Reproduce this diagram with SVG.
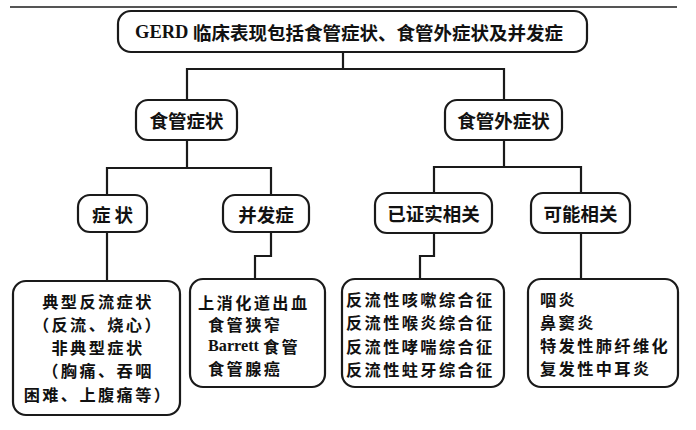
<svg xmlns="http://www.w3.org/2000/svg" width="696" height="430" viewBox="0 0 696 430">
<style>
.box{fill:#fff;stroke:#1a1a1a;stroke-width:2.2}
.ln{fill:none;stroke:#1a1a1a;stroke-width:2.2}
text{font-family:"Noto Sans CJK SC","Liberation Serif",serif;font-weight:bold;font-size:18.5px;fill:#111;dominant-baseline:central}
.m{font-size:16.2px;letter-spacing:2.4px}
.c{text-anchor:middle}
.lat{font-family:"Liberation Serif","Noto Sans CJK SC",serif;letter-spacing:0}
</style>
<rect width="696" height="430" fill="#fff"/>
<line x1="10" y1="7" x2="677" y2="7" stroke="#555" stroke-width="2"/>
<g id="connectors">
<path class="ln" d="M343 52V69M187 100V69H504V100"/>
<path class="ln" d="M187 140V168M107 195V168H271V195"/>
<path class="ln" d="M504 140V167M434 193V167H581V193"/>
<path class="ln" d="M107 232V281"/>
<path class="ln" d="M271 232V256H255V279"/>
<path class="ln" d="M434 233V256H420V279"/>
<path class="ln" d="M581 233V279"/>
</g>
<g id="root">
<rect class="box" x="118" y="11" width="469" height="41" rx="13"/>
<text x="135" y="32"><tspan class="lat">GERD </tspan>临床表现包括食管症状、食管外症状及并发症</text>
</g>
<g id="n-eso">
<rect class="box" x="136" y="100" width="101" height="40" rx="12"/>
<text class="c" x="186.5" y="120">食管症状</text>
</g>
<g id="n-extra">
<rect class="box" x="445" y="100" width="117" height="40" rx="12"/>
<text class="c" x="503.5" y="120">食管外症状</text>
</g>
<g id="n-sym">
<rect class="box" x="78" y="195" width="69" height="37" rx="12"/>
<text class="c" x="112.5" y="213.5">症 状</text>
</g>
<g id="n-comp">
<rect class="box" x="223" y="195" width="86" height="37" rx="12"/>
<text class="c" x="266" y="213.5">并发症</text>
</g>
<g id="n-proven">
<rect class="box" x="375" y="193" width="117" height="40" rx="12"/>
<text class="c" x="433.5" y="213">已证实相关</text>
</g>
<g id="n-possible">
<rect class="box" x="531" y="193" width="99" height="40" rx="12"/>
<text class="c" x="580.5" y="213">可能相关</text>
</g>
<g id="b-sym">
<rect class="box" x="13" y="281" width="167" height="134" rx="13"/>
<text class="m c" x="98" y="301">典型反流症状</text>
<text class="m c" x="98" y="324">（反流、烧心）</text>
<text class="m c" x="98" y="347">非典型症状</text>
<text class="m c" x="98" y="370">（胸痛、吞咽</text>
<text class="m c" x="98" y="394">困难、上腹痛等）</text>
</g>
<g id="b-comp">
<rect class="box" x="190" y="279" width="135" height="108" rx="13"/>
<text class="m" x="198" y="302">上消化道出血</text>
<text class="m" x="208" y="324">食管狭窄</text>
<text class="m" x="208" y="346"><tspan class="lat">Barrett </tspan>食管</text>
<text class="m" x="208" y="368">食管腺癌</text>
</g>
<g id="b-proven">
<rect class="box" x="342" y="279" width="162" height="108" rx="13"/>
<text class="m" x="346" y="299">反流性咳嗽综合征</text>
<text class="m" x="346" y="322">反流性喉炎综合征</text>
<text class="m" x="346" y="346">反流性哮喘综合征</text>
<text class="m" x="346" y="369">反流性蛀牙综合征</text>
</g>
<g id="b-possible">
<rect class="box" x="528" y="279" width="150" height="108" rx="13"/>
<text class="m" x="540" y="299">咽炎</text>
<text class="m" x="540" y="322">鼻窦炎</text>
<text class="m" x="540" y="345">特发性肺纤维化</text>
<text class="m" x="540" y="368">复发性中耳炎</text>
</g>
</svg>
